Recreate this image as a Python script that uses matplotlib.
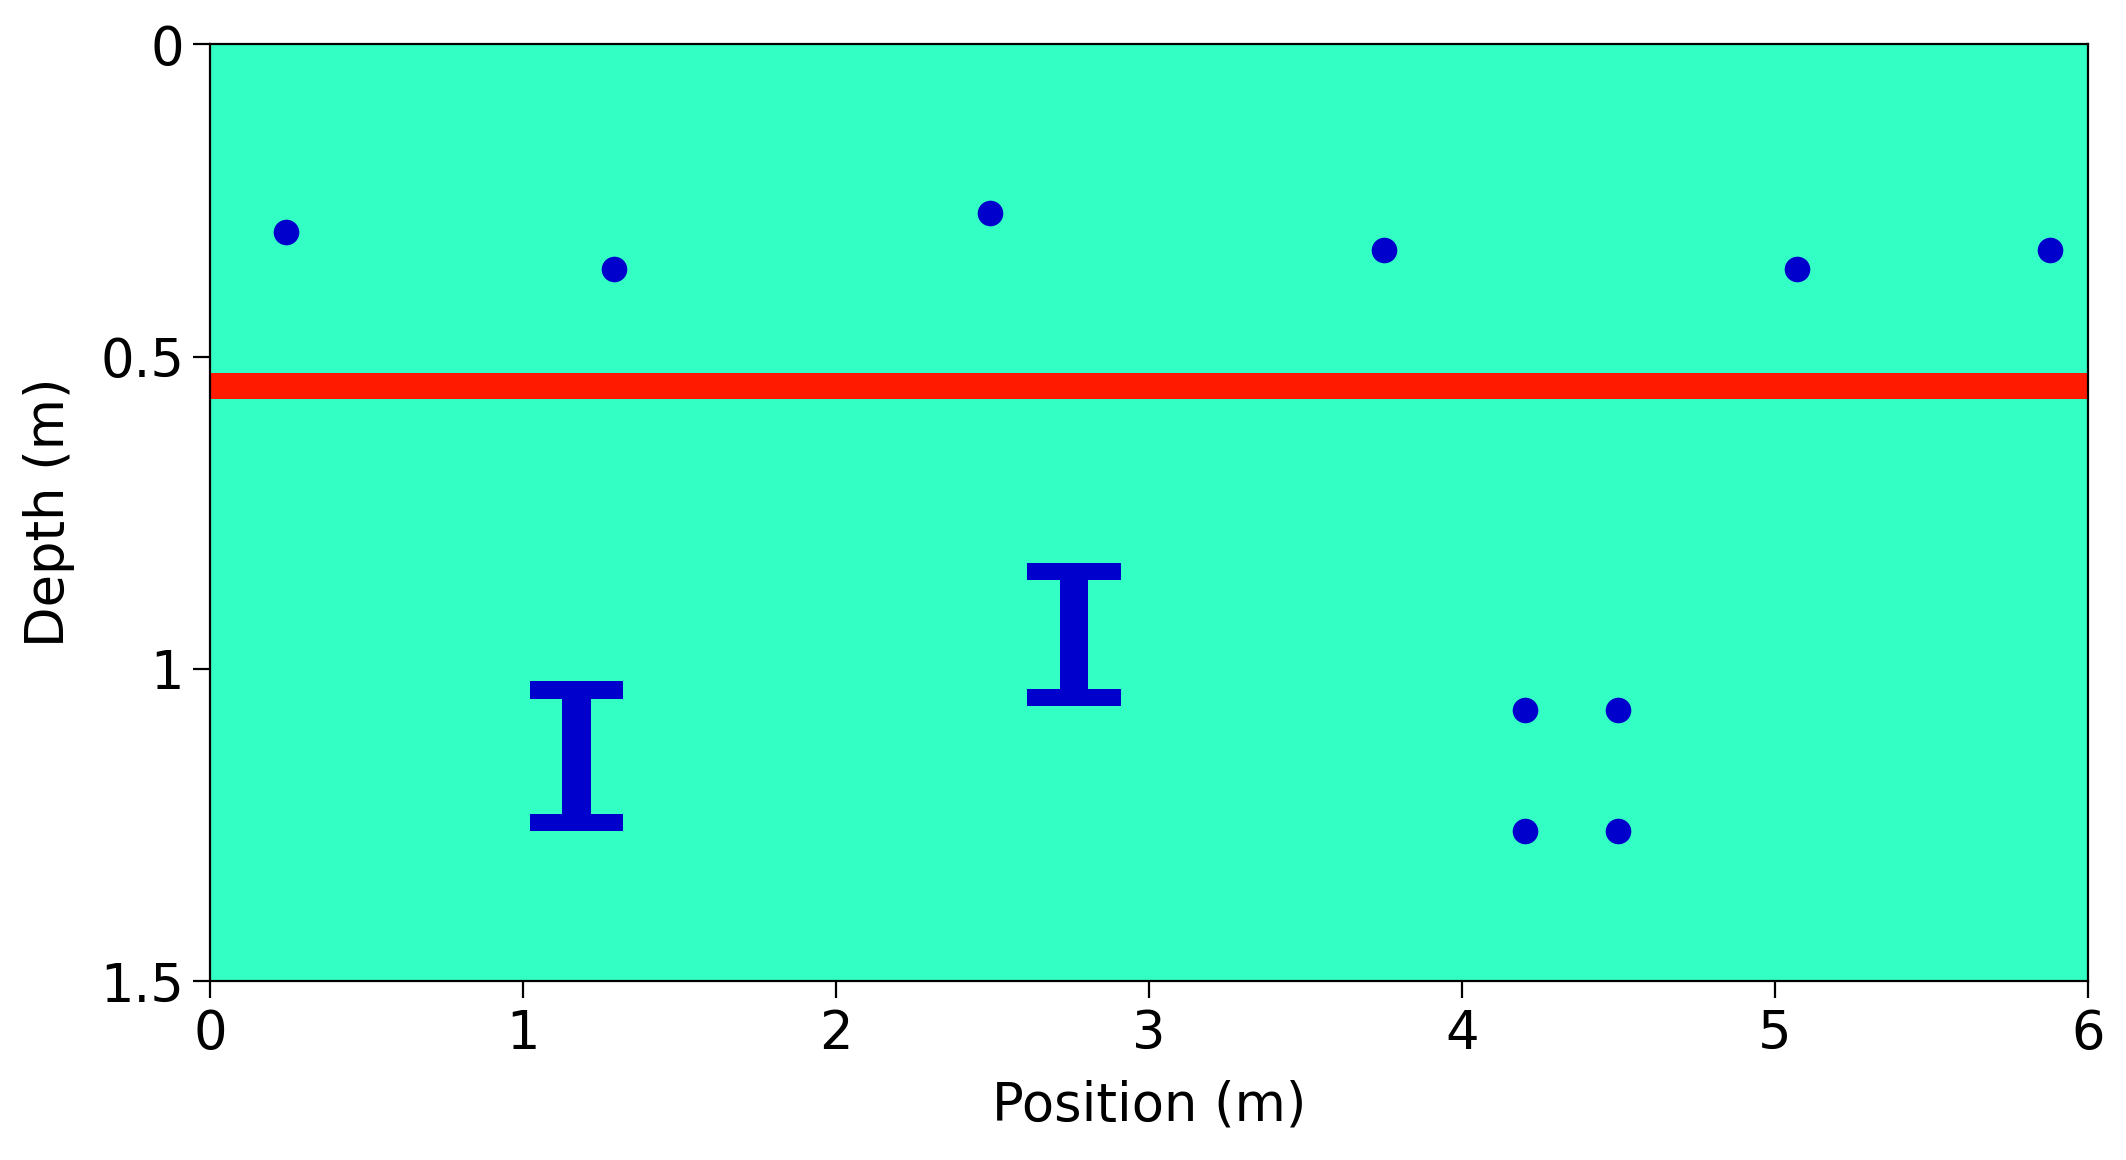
import matplotlib
matplotlib.use("Agg")
import matplotlib.pyplot as plt
from matplotlib.patches import Rectangle

# data
bg_color = "#33FFC4"
rebar_x = [0.24, 1.29, 2.49, 3.75, 5.07, 5.88]
rebar_d = [0.30, 0.36, 0.27, 0.33, 0.36, 0.33]
grid_x = [4.2, 4.5, 4.2, 4.5]
grid_d = [1.065, 1.065, 1.26, 1.26]
layer_depth = 0.547
layer_thick = 0.042
# I-beams: (x_left, x_right, d_top, d_bottom)
beams = [(1.02, 1.32, 1.02, 1.26), (2.61, 2.91, 0.83, 1.06)]
flange_t = 0.028
web_w = 0.09

fig = plt.figure(figsize=(10.63, 5.8), dpi=200)
ax = fig.add_axes([0.099, 0.154, 0.883, 0.808])
ax.set_facecolor(bg_color)
ax.set_xlim(0, 6)
ax.set_ylim(1.5, 0)
blue = "#0000CC"
ax.add_patch(Rectangle((0, layer_depth - layer_thick / 2), 6, layer_thick, color="#FF1A00", lw=0))
for (xl, xr, dt, db) in beams:
    xc = (xl + xr) / 2
    ax.add_patch(Rectangle((xl, dt), xr - xl, flange_t, color=blue, lw=0))
    ax.add_patch(Rectangle((xl, db - flange_t), xr - xl, flange_t, color=blue, lw=0))
    ax.add_patch(Rectangle((xc - web_w / 2, dt), web_w, db - dt, color=blue, lw=0))
ax.scatter(rebar_x, rebar_d, s=85, color=blue, zorder=3, lw=0)
ax.scatter(grid_x, grid_d, s=85, color=blue, zorder=3, lw=0)
ax.set_xticks([0, 1, 2, 3, 4, 5, 6])
ax.set_xticklabels(["0", "1", "2", "3", "4", "5", "6"])
ax.set_yticks([0, 0.5, 1, 1.5])
ax.set_yticklabels(["0", "0.5", "1", "1.5"])
ax.tick_params(labelsize=19, length=6)
ax.set_xlabel("Position (m)", fontsize=19, labelpad=7)
ax.set_ylabel("Depth (m)", fontsize=19, labelpad=9)
fig.savefig("out.png", dpi=200)
